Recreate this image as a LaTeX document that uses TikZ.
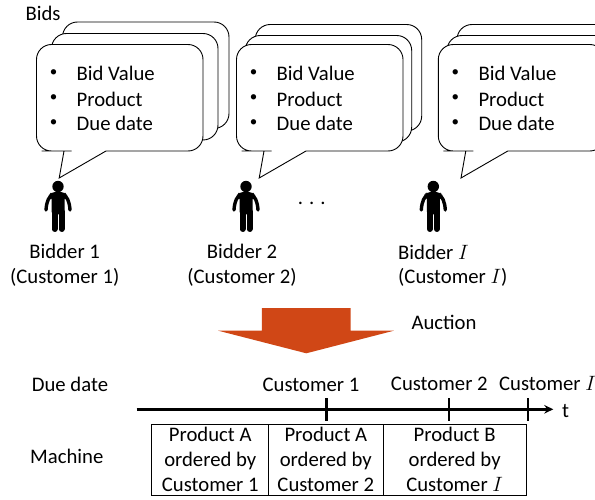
\documentclass[tikz,border=0pt]{standalone}
\usepackage{fontspec}
\setmainfont{Carlito}
\usetikzlibrary{arrows.meta, positioning}

% one stack of three speech bubbles: x, offsets of the two back sheets, name
\newcommand{\bidstack}[6]{
    \begin{scope}[shift={(#1,0)}]
        \draw[sheet] (#4,{44.5-#5}) rectangle (166.5+#4,{151-#5});
        \draw[sheet] (#2,{44.5-#3}) rectangle (166.5+#2,{151-#3});
        \draw[sheet] (69.5,151) -- (166.5,151) -- (166.5,44.5) -- (0,44.5) -- (0,151) -- (20,151)
            [sharp corners] -- (27.5,151) -- (22.7,178) -- cycle;
        \node[dot_label] (#6_d1) at (17,73.3) {\textbullet};
        \node[dot_label] (#6_d2) at (17,98.3) {\textbullet};
        \node[dot_label] (#6_d3) at (17,122.7) {\textbullet};
        \node[bid_label] (#6_t1) at (40,73.5) {Bid Value};
        \node[bid_label] (#6_t2) at (40,99.5) {Product};
        \node[bid_label] (#6_t3) at (40,123) {Due date};
    \end{scope}
}

\begin{document}
\begin{tikzpicture}[
            x=1pt, y=-1pt,
            font=\fontsize{20.7}{25}\selectfont,
            sheet/.style={draw=black, fill=white, line width=0.9pt, rounded corners=15pt},
            bid_label/.style={anchor=west, inner sep=0pt},
            dot_label/.style={inner sep=0pt, font=\fontsize{15}{15}\selectfont},
            label/.style={inner sep=0pt, align=center},
            slot/.style={draw=black, line width=0.8pt, inner sep=0pt, minimum height=71pt, align=center},
            tick/.style={line width=2.8pt},
            person/.pic={
                \fill (0,0) circle (5.7);
                \fill[rounded corners=3pt] (-6.5,6) rectangle (6.5,28);
                \fill[rounded corners=4pt] (-6.5,5.5) -- (6.5,5.5) -- (9.5,9) -- (6.5,14) -- (-6.5,14) -- (-9.5,9) -- cycle;
                \draw[line width=3.4pt, line cap=round] (-5,8) .. controls (-9,9.5) and (-11.5,15) .. (-12,23.5);
                \draw[line width=3.4pt, line cap=round] (5,8) .. controls (9,9.5) and (11.5,15) .. (12,23.5);
                \draw[line width=6pt, line cap=round] (-3.5,25) -- (-3.5,42.5);
                \draw[line width=6pt, line cap=round] (3.5,25) -- (3.5,42.5);
            }
        ]
\useasboundingbox (0,0) rectangle (595,500);

% Bids
\node[label] (bids) at (43,13) {Bids};
\bidstack{36.5}{15}{11}{26}{22.5}{first}
\bidstack{236.5}{8.7}{9}{18.7}{20}{second}
\bidstack{438.3}{8.7}{9}{18.7}{20}{last}

% Bidders
\pic at (58,186.5) {person};
\pic at (246,186.5) {person};
\pic at (433.3,186.5) {person};
\node[label] (dots) at (311.7,203) {.\hspace{6pt}.\hspace{6pt}.};
\node[label] (bidder_1) at (64.7,251) {Bidder 1};
\node[label] (cust_1) at (64.7,277) {(Customer 1)};
\node[label] (bidder_2) at (242,251) {Bidder 2};
\node[label] (cust_2) at (242,277) {(Customer 2)};
\node[label, anchor=west] (bidder_i) at (398,252) {Bidder $I$};
\node[label, anchor=west] (cust_i) at (398,277) {(Customer $I$)};

% Auction arrow
\fill[fill={rgb,255:red,208;green,71;blue,22}] (261.9,308) -- (350.7,308) -- (350.7,330.7) -- (393.9,330.7)
    -- (306.3,353.3) -- (218.2,330.7) -- (261.9,330.7) -- cycle;
\node[label] (auction) at (444,322) {Auction};

% Time axis
\node[label] (due) at (70,384) {Due date};
\node[label] (due_1) at (311,385) {Customer 1};
\node[label] (due_2) at (439.3,384) {Customer 2};
\node[label] (due_i) at (547.5,383) {Customer $I$};
\node[label] (time) at (565.5,411) {t};
\coordinate (axis_start) at (136.6,409.3);
\coordinate (axis_end) at (553.3,409.3);
\draw[line width=2.8pt, -{Stealth[length=9pt, width=8.5pt]}] (axis_start) -- (axis_end);
\foreach \tx in {326.4, 449, 527.9} {
    \coordinate (tick_top) at (\tx,398.3);
    \coordinate (tick_bot) at (\tx,420.7);
    \draw[tick] (tick_top) -- (tick_bot);
}

% Machine schedule
\node[label] (machine) at (66.8,456) {Machine};
\node[slot, minimum width=116.9pt] (job_1) at (210.25,459.8) {Product A\\ordered by\\Customer 1};
\node[slot, minimum width=114.2pt] (job_2) at (325.8,459.8) {Product A\\ordered by\\Customer 2};
\node[slot, minimum width=143.5pt] (job_3) at (454.65,459.8) {Product B\\ordered by\\Customer $I$};

\end{tikzpicture}
\end{document}
